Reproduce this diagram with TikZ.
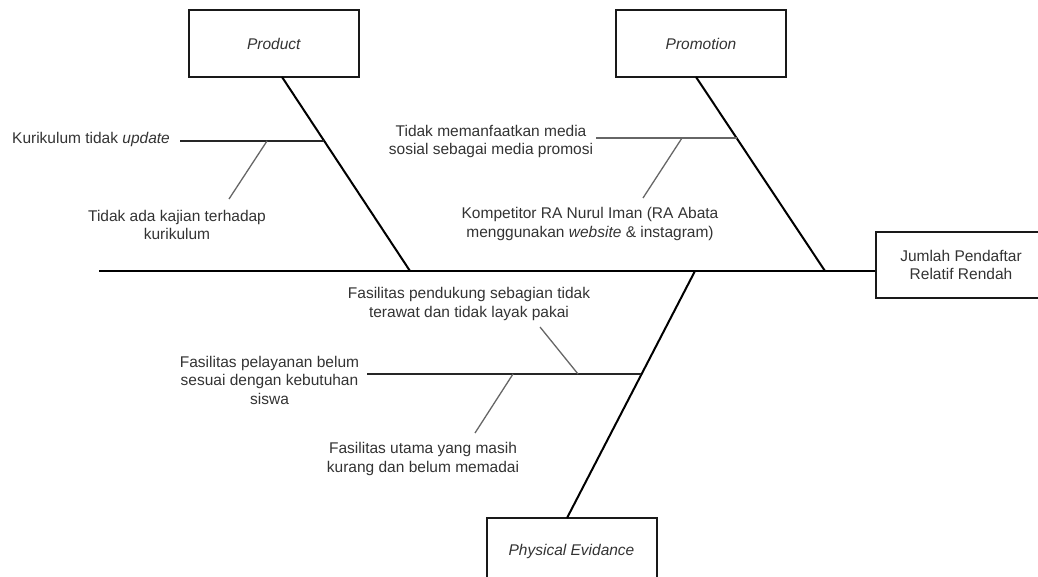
\documentclass[tikz,border=0pt]{standalone}
\usepackage{fontspec}
\setmainfont{Liberation Sans}
\usetikzlibrary{calc}
\definecolor{txt}{HTML}{333333}
\definecolor{twig}{HTML}{666666}
\tikzset{
  catbox/.style={draw=black!90, line width=2pt, minimum width=170pt, minimum height=67pt, inner sep=0pt, align=center, text=txt, font=\fontsize{15.5}{18.5}\selectfont},
  lbl/.style={align=center, inner sep=0pt, text=txt, font=\fontsize{15.5}{18.5}\selectfont},
  bone/.style={line width=2pt, black},
  rib/.style={line width=1.2pt, black!85},
  twigline/.style={line width=1.3pt, twig}
}
\begin{document}
\begin{tikzpicture}[x=1pt, y=-1pt]
\useasboundingbox (0,0) rectangle (1038,577);

\node (prod) at (274,43.5) [catbox] {\textit{Product}};
\node (promo) at (701,43.5) [catbox] {\textit{Promotion}};
\node (phys) at (571.5,551.5) [catbox] {\textit{Physical Evidance}};
\node (eff) at (961,265) [catbox, minimum height=66pt] {Jumlah Pendaftar\\Relatif Rendah};

\coordinate (tail) at (99,271);
\coordinate (jP) at (410,271);
\coordinate (jR) at (825,271);
\coordinate (jE) at (695,271);
\coordinate (bP) at (282,77);
\coordinate (bR) at (696,77);
\coordinate (bE) at (567,518);

\draw [bone] (tail) -- (tail -| eff.west);
\draw [bone] (bP) -- (jP);
\draw [bone] (bR) -- (jR);
\draw [bone] (jE) -- (bE);

\node (kur) at (91,139) [lbl] {Kurikulum tidak \textit{update}};
\node (kaj) at (177,225) [lbl] {Tidak ada kajian terhadap\\kurikulum};
\node (med) at (491,141.5) [lbl] {Tidak memanfaatkan media\\sosial sebagai media promosi};
\node (komp) at (590,224) [lbl] {Kompetitor RA Nurul Iman (RA Abata\\menggunakan \textit{website} \& instagram)};
\node (pend) at (469,304) [lbl] {Fasilitas pendukung sebagian tidak\\terawat dan tidak layak pakai};
\node (pel) at (269.5,380) [lbl] {Fasilitas pelayanan belum\\sesuai dengan kebutuhan\\siswa};
\node (utm) at (423,459) [lbl] {Fasilitas utama yang masih\\kurang dan belum memadai};

\coordinate (kurA) at (180,141);
\coordinate (kurB) at (324,141);
\coordinate (kajA) at (267,141);
\coordinate (kajB) at (229,199);
\coordinate (medA) at (596,138);
\coordinate (medB) at (737,138);
\coordinate (kompA) at (682,138);
\coordinate (kompB) at (643,198);
\coordinate (pelA) at (367,374);
\coordinate (pelB) at (641,374);
\coordinate (pendA) at (578,374);
\coordinate (pendB) at (540,327);
\coordinate (utmA) at (513,374);
\coordinate (utmB) at (475,433);

\draw [rib] (kurA) -- (kurB);
\draw [twigline] (kajA) -- (kajB);
\draw [rib, twig] (medA) -- (medB);
\draw [twigline] (kompA) -- (kompB);
\draw [rib] (pelA) -- (pelB);
\draw [twigline] (pendA) -- (pendB);
\draw [twigline] (utmA) -- (utmB);
\end{tikzpicture}
\end{document}
